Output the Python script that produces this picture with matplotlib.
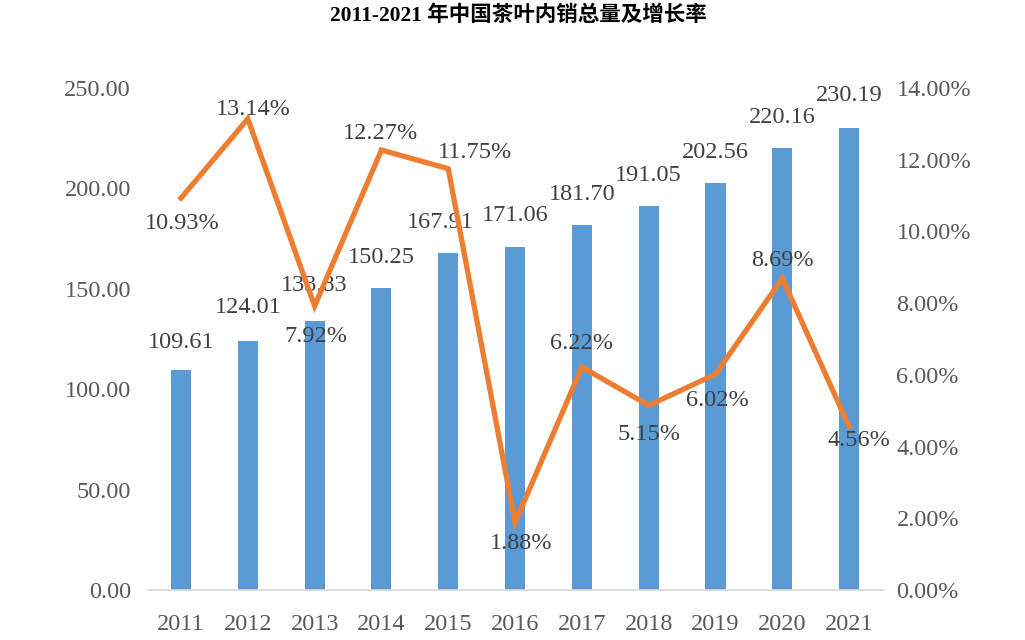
"""
2011-2021 年中国茶叶内销总量及增长率：柱状图 + 折线图（双轴）
"""

import matplotlib
matplotlib.use("Agg")
import matplotlib.pyplot as plt
from matplotlib.ticker import FuncFormatter
import numpy as np

plt.rcParams["font.family"] = ["Liberation Serif", "Noto Sans CJK SC", "DejaVu Sans"]

# --- 数据 ---
years = ["2011", "2012", "2013", "2014", "2015", "2016",
         "2017", "2018", "2019", "2020", "2021"]
sales = [109.61, 124.01, 133.83, 150.25, 167.91, 171.06,
         181.70, 191.05, 202.56, 220.16, 230.19]
growth = [10.93, 13.14, 7.92, 12.27, 11.75, 1.88,
          6.22, 5.15, 6.02, 8.69, 4.56]

# 标签偏移（单位：points）
growth_offsets = [(1, -18), (4, 7), (1, -22), (-1, 12), (19, 12), (4, -15),
                  (0, 17), (0, -21), (1, -19), (0, 13), (7, -10)]
sales_offsets = [(0, 20), (0, 24), (0, 26), (0, 22), (-6, 22), (0, 22),
                 (0, 22), (0, 22), (0, 22), (0, 22), (0, 23)]

BAR_COLOR = "#5B9BD5"
LINE_COLOR = "#ED7D31"
TICK_COLOR = "#595959"
LABEL_COLOR = "#404040"
FS = 17.5

fig = plt.figure(figsize=(10.25, 6.4), dpi=100)
ax = fig.add_axes([0.144, 0.078, 0.717, 0.7845])
ax2 = ax.twinx()

x = np.arange(len(years))

# --- 柱状图 ---
ax.bar(x, sales, width=0.3, color=BAR_COLOR, zorder=2)
ax.set_ylim(0, 250)
ax.set_xlim(-0.5, len(years) - 0.5)
ax.set_yticks(np.arange(0, 251, 50))
ax.yaxis.set_major_formatter(FuncFormatter(lambda v, _: f"{v:.2f}"))
ax.set_xticks(x)
ax.set_xticklabels(years)

for xi, v, (dx, dy) in zip(x, sales, sales_offsets):
    ax.annotate(f"{v:.2f}", (xi, v), textcoords="offset points", xytext=(dx, dy),
                ha="center", va="center", fontsize=FS, color=LABEL_COLOR, zorder=5)

# --- 折线图 ---
ax2.plot(x, growth, color=LINE_COLOR, linewidth=3.8, solid_joinstyle="miter", zorder=3)
ax2.set_ylim(0, 14)
ax2.set_yticks(np.arange(0, 14.1, 2))
ax2.yaxis.set_major_formatter(FuncFormatter(lambda v, _: f"{v:.2f}%"))

for xi, v, (dx, dy) in zip(x, growth, growth_offsets):
    ax2.annotate(f"{v:.2f}%", (xi, v), textcoords="offset points", xytext=(dx, dy),
                 ha="center", va="center", fontsize=FS, color=LABEL_COLOR, zorder=6)

# --- 坐标轴样式 ---
for a in (ax, ax2):
    for s in ("top", "left", "right"):
        a.spines[s].set_visible(False)
    a.spines["bottom"].set_color("#D9D9D9")
    a.spines["bottom"].set_linewidth(1.2)
    a.tick_params(length=0, labelsize=FS, colors=TICK_COLOR)

ax.tick_params(axis="y", pad=12)
ax.tick_params(axis="x", pad=17)
ax2.tick_params(axis="y", pad=10)
ax2.spines["bottom"].set_visible(False)

fig.text(0.506, 0.976, "2011-2021 年中国茶叶内销总量及增长率", ha="center", va="center",
         fontsize=15.5, fontweight="bold", color="#000000")

fig.savefig("out.png", dpi=100)
plt.close(fig)
